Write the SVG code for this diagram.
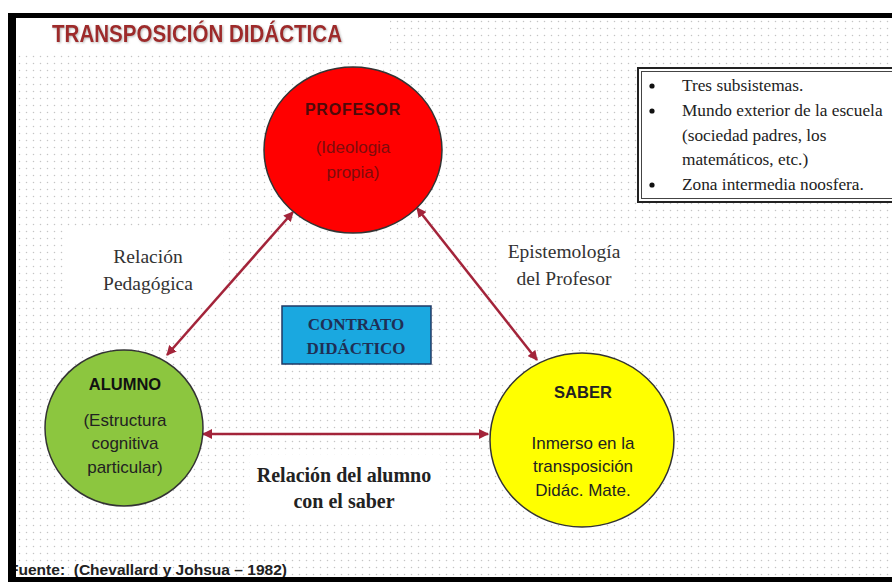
<svg xmlns="http://www.w3.org/2000/svg" width="892" height="583" viewBox="0 0 892 583">
<defs>
<pattern id="dots" x="16" y="18" width="7" height="7" patternUnits="userSpaceOnUse">
<circle cx="3.5" cy="3.5" r="0.75" fill="#c4c4c4"/>
</pattern>
<marker id="ah" viewBox="0 0 10 10" refX="9" refY="5" markerWidth="4" markerHeight="4" orient="auto-start-reverse" markerUnits="strokeWidth">
<path d="M0,0 L10,5 L0,10 z" fill="#a3243a"/>
</marker>
<filter id="sh" x="-5%" y="-20%" width="110%" height="150%">
<feDropShadow dx="1" dy="1" stdDeviation="0.8" flood-color="#888" flood-opacity="0.6"/>
</filter>
</defs>
<style>
.sans{font-family:"Liberation Sans",Arial,sans-serif;text-anchor:middle}
.serif{font-family:"Liberation Serif","Times New Roman",serif}
.node{stroke:#333;stroke-width:1.5}
.conn{stroke:#a3243a;stroke-width:2.5;fill:none;marker-start:url(#ah);marker-end:url(#ah)}
.lbl{font-size:19.5px;fill:#333;text-anchor:middle}
.bul{font-size:17.3px;fill:#222}
</style>
<rect x="0" y="0" width="892" height="583" fill="#fff"/>
<rect x="16" y="18" width="876" height="559" fill="url(#dots)"/>
<!-- title area -->
<rect x="16" y="18" width="374" height="35" fill="#fff"/>
<text x="52" y="42" font-family="'Liberation Sans',Arial,sans-serif" font-weight="bold" font-size="23" fill="#9e2a2b" textLength="290" lengthAdjust="spacingAndGlyphs" filter="url(#sh)">TRANSPOSICIÓN DIDÁCTICA</text>

<!-- label backgrounds -->
<rect x="67" y="230" width="156" height="73" fill="#fff"/>
<rect x="497" y="233" width="136" height="64" fill="#fff"/>
<rect x="250" y="455" width="190" height="65" fill="#fff"/>

<g id="connectors">
<line class="conn" x1="167" y1="355" x2="293" y2="212"/>
<line class="conn" x1="417" y1="208" x2="537" y2="360"/>
<line class="conn" x1="203" y1="434" x2="488" y2="434"/>
</g>

<g id="profesor">
<ellipse class="node" cx="353" cy="150" rx="89" ry="83" fill="#ff0000"/>
<text class="sans" x="353" y="115" font-size="16" font-weight="bold" fill="#4e0a0a" letter-spacing="0.8">PROFESOR</text>
<text class="sans" x="353" y="153" font-size="17" fill="#7e0c0c">(Ideologia</text>
<text class="sans" x="353" y="178" font-size="17" fill="#7e0c0c">propia)</text>
</g>

<g id="alumno">
<ellipse class="node" cx="124" cy="428" rx="79" ry="78" fill="#8cc63f"/>
<text class="sans" x="125" y="390" font-size="16.5" font-weight="bold" fill="#111">ALUMNO</text>
<text class="sans" x="125" y="426" font-size="17" fill="#222">(Estructura</text>
<text class="sans" x="125" y="449" font-size="17" fill="#222">cognitiva</text>
<text class="sans" x="125" y="473" font-size="17" fill="#222">particular)</text>
</g>

<g id="saber">
<ellipse class="node" cx="582" cy="440" rx="92" ry="87" fill="#ffff00"/>
<text class="sans" x="583" y="398" font-size="16.5" font-weight="bold" fill="#222">SABER</text>
<text class="sans" x="583" y="449" font-size="17" fill="#222">Inmerso en la</text>
<text class="sans" x="583" y="472" font-size="17" fill="#222">transposición</text>
<text class="sans" x="583" y="496" font-size="17" fill="#222">Didác. Mate.</text>
</g>

<g id="contrato">
<rect x="282" y="306" width="149" height="58" fill="#1aa8e0" stroke="#1f3864" stroke-width="1.5"/>
<text class="serif" x="356" y="330" font-size="17" font-weight="bold" fill="#1f2f55" text-anchor="middle">CONTRATO</text>
<text class="serif" x="356" y="354" font-size="17" font-weight="bold" fill="#1f2f55" text-anchor="middle">DIDÁCTICO</text>
</g>

<g id="label-pedagogica">
<text class="serif lbl" x="148" y="263">Relación</text>
<text class="serif lbl" x="148" y="290">Pedagógica</text>
</g>

<g id="label-epistemologia">
<text class="serif lbl" x="564" y="258">Epistemología</text>
<text class="serif lbl" x="564" y="285">del Profesor</text>
</g>

<g id="label-alumno-saber">
<text class="serif" x="344" y="482" font-size="20" font-weight="bold" fill="#222" text-anchor="middle">Relación del alumno</text>
<text class="serif" x="344" y="508" font-size="20" font-weight="bold" fill="#222" text-anchor="middle">con el saber</text>
</g>

<g id="notes">
<rect x="638" y="68" width="300" height="134" fill="#fff" stroke="#222" stroke-width="2"/>
<rect x="641.5" y="71.5" width="300" height="127" fill="none" stroke="#444" stroke-width="1"/>
<circle cx="652" cy="86" r="2.6" fill="#111"/>
<circle cx="652" cy="111" r="2.6" fill="#111"/>
<circle cx="652" cy="185" r="2.6" fill="#111"/>
<text class="serif bul" x="682" y="91">Tres subsistemas.</text>
<text class="serif bul" x="682" y="116">Mundo exterior de la escuela</text>
<text class="serif bul" x="682" y="141">(sociedad padres, los</text>
<text class="serif bul" x="682" y="165">matemáticos, etc.)</text>
<text class="serif bul" x="682" y="190">Zona intermedia noosfera.</text>
</g>

<text x="9" y="575" font-family="'Liberation Sans',Arial,sans-serif" font-weight="bold" font-size="15.5" fill="#222" textLength="278" lengthAdjust="spacingAndGlyphs" xml:space="preserve">Fuente:  (Chevallard y Johsua – 1982)</text>

<!-- frame -->
<rect x="8" y="13" width="884" height="5" fill="#000"/>
<rect x="8" y="13" width="8" height="569" fill="#000"/>
<rect x="8" y="577" width="884" height="5" fill="#000"/>
</svg>
